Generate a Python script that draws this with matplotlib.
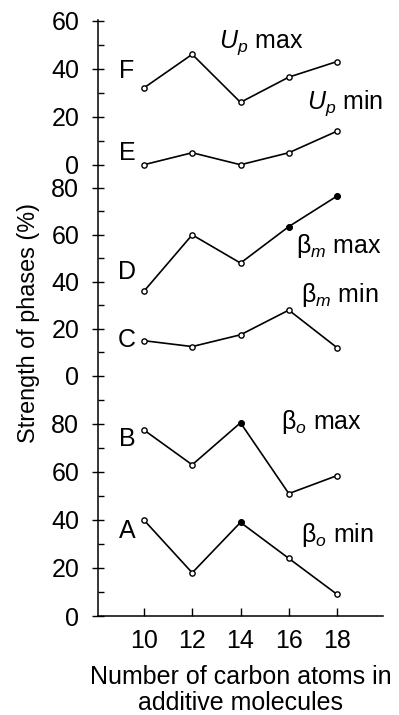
import matplotlib
matplotlib.use("Agg")
import matplotlib.pyplot as plt

plt.rcParams['font.family'] = ['Liberation Sans', 'DejaVu Sans']
plt.rcParams['mathtext.fontset'] = 'custom'
plt.rcParams['mathtext.rm'] = 'Liberation Sans'
plt.rcParams['mathtext.it'] = 'Liberation Sans:italic'

carbons = [10, 12, 14, 16, 18]

# strength of phases (%) per curve
up_max = [32, 46, 26, 36.5, 43]        # F
up_min = [0, 5, 0, 5, 14]              # E
bm_max = [36, 60, 48, 63.5, 76.5]      # D
bm_min = [15, 12.5, 17.5, 28, 12]      # C
bo_max = [77.5, 63, 80.5, 51, 58.5]    # B
bo_min = [40, 18, 39, 24, 9]           # A

# stacked sub-scales: (offset, stretch) of the bottom, middle and top block
blocks = {'bottom': (0, 1.0), 'middle': (100, 0.98), 'top': (188, 1.0)}
block_ticks = {'bottom': [0, 20, 40, 60, 80], 'middle': [0, 20, 40, 60, 80], 'top': [0, 20, 40, 60]}
block_minor = {'bottom': [10, 30, 50, 70, 90], 'middle': [10, 30, 50, 70], 'top': [10, 30, 50]}


def to_axis(block, v):
    off, k = blocks[block]
    if isinstance(v, list):
        return [off + k * x for x in v]
    return off + k * v


curves = [
    ('top', up_max, 'F', 39, '$U_p$ max', 13.13, 48.8, []),
    ('top', up_min, 'E', 5, '$U_p$ min', 16.76, 23.5, []),
    ('middle', bm_max, 'D', 44, 'β$_m$ max', 16.3, 52.2, [3, 4]),
    ('middle', bm_min, 'C', 15.3, 'β$_m$ min', 16.5, 31.6, []),
    ('bottom', bo_max, 'B', 73.7, 'β$_o$ max', 15.68, 77.8, [2]),
    ('bottom', bo_min, 'A', 35.4, 'β$_o$ min', 16.5, 31, [2]),
]

FS = 18

fig = plt.figure(figsize=(3.99, 7.15), dpi=100)
ax = fig.add_axes([98 / 399, 99 / 715, 285 / 399, 596 / 715])

for block, vals, letter, ly, name, nx, ny, filled in curves:
    ys = to_axis(block, vals)
    ax.plot(carbons, ys, color='black', lw=1.2, marker='o', ms=3.8,
            mfc='white', mec='black', mew=1.0, zorder=3)
    if filled:
        ax.plot([carbons[i] for i in filled], [ys[i] for i in filled], 'o',
                ms=3.8, color='black', zorder=4)
    ax.text(9.3, to_axis(block, ly), letter, fontsize=FS, ha='center', va='center')
    ax.text(nx, to_axis(block, ny), name, fontsize=FS, ha='left', va='baseline')

major, major_lbl, minor = [], [], []
for b in ['bottom', 'middle', 'top']:
    major += to_axis(b, block_ticks[b])
    major_lbl += [str(t) for t in block_ticks[b]]
    minor += to_axis(b, block_minor[b])

ax.set_yticks(major)
ax.set_yticklabels(major_lbl)
ax.set_yticks(minor, minor=True)
ax.set_xticks(carbons)
ax.set_xlim(8.1, 19.9)
ax.set_ylim(0, 248.3)

for s in ['top', 'right']:
    ax.spines[s].set_visible(False)
for s in ['left', 'bottom']:
    ax.spines[s].set_linewidth(1.1)

ax.tick_params(axis='y', which='major', direction='inout', length=8, width=1.0,
               labelsize=FS, pad=9.5)
ax.tick_params(axis='y', which='minor', direction='in', length=4, width=1.0)
ax.tick_params(axis='x', which='major', direction='in', length=6, width=1.0,
               labelsize=FS, pad=9)

ax.set_ylabel('Strength of phases (%)', fontsize=16.8)
ax.yaxis.set_label_coords(-0.205, 0.4916)
ax.set_xlabel('Number of carbon atoms in\nadditive molecules', fontsize=FS,
              labelpad=9, linespacing=1.12)

fig.savefig('out.png', dpi=100)
